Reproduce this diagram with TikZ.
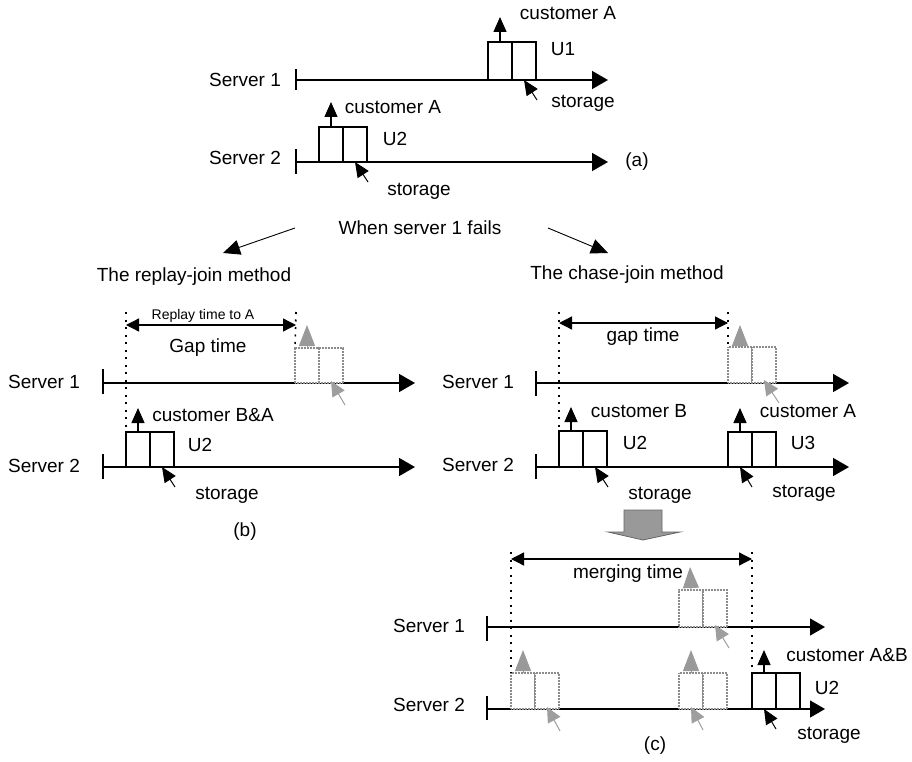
\documentclass[tikz,border=0pt]{standalone}
\usepackage{fontspec}
\setmainfont{Liberation Sans}
\usetikzlibrary{arrows.meta}
\tikzset{
  txt/.style={font=\fontsize{19}{22}\selectfont, inner sep=0pt},
  smalltxt/.style={font=\fontsize{14}{16}\selectfont, inner sep=0pt},
  cell/.style={draw, line width=1.1pt, minimum width=24pt, minimum height=36pt, inner sep=0pt, outer sep=0pt, anchor=south west, fill=white},
  gcell/.style={draw=black!45, line width=1.6pt, dash pattern=on 1pt off 0.5pt, minimum width=24pt, minimum height=36pt, inner sep=0pt, outer sep=0pt, anchor=south west, fill=white},
  axis/.style={line width=1.6pt, -{Triangle[length=16pt,width=18pt]}},
  axisthin/.style={line width=1.2pt, -{Triangle[length=15pt,width=17pt]}},
  tickmark/.style={line width=1.6pt},
  uparr/.style={line width=1.2pt, -{Triangle[length=15pt,width=13pt]}},
  starr/.style={line width=1pt, -{Triangle[length=15pt,width=13pt]}},
  garr/.style={black!40, line width=1pt, -{Triangle[length=21pt,width=16pt]}},
  gstarr/.style={black!38, line width=1pt, -{Triangle[length=15pt,width=14pt]}},
  dbl/.style={line width=1.3pt, {Triangle[length=13pt,width=13pt]}-{Triangle[length=13pt,width=13pt]}},
  dotline/.style={line width=1.6pt, dash pattern=on 2pt off 5.5pt},
  thinarr/.style={line width=0.9pt, -{Triangle[length=17pt,width=15pt]}}
}
\begin{document}
\begin{tikzpicture}[x=1pt,y=-1pt]
\useasboundingbox (0,0) rectangle (912,762);

% ================= (a) =================
\coordinate (a1s) at (296,80);  \coordinate (a1e) at (608,80);
\coordinate (a2s) at (296,162); \coordinate (a2e) at (608,162);
\draw[axis] (a1s) -- (a1e);
\draw[tickmark] ([yshift=-10]a1s) -- ([yshift=11]a1s);
\draw[axis] (a2s) -- (a2e);
\draw[tickmark] ([yshift=-12]a2s) -- ([yshift=13]a2s);
\node[txt] (ta1) at (245,79.5) {Server 1};
\node[txt] (ta2) at (245,158) {Server 2};
% U1
\node[cell, minimum height=38pt] (u1a) at (488,80) {};
\node[cell, minimum height=38pt] (u1b) at (512,80) {};
\coordinate (u1up) at (500,17);
\draw[uparr] (u1a.north) -- (u1up);
\coordinate (u1st) at (537,100);
\draw[starr] (u1st) -- (u1b.south);
\node[txt] (tca1) at (568,13) {customer A};
\node[txt] (tu1) at (563,49) {U1};
\node[txt] (tst1) at (583,103.5) {storage};
% U2
\node[cell, minimum height=35pt] (u2a) at (319,162) {};
\node[cell, minimum height=35pt] (u2b) at (343,162) {};
\coordinate (u2up) at (331,102);
\draw[uparr] (u2a.north) -- (u2up);
\coordinate (u2st) at (368,182);
\draw[starr] (u2st) -- (u2b.south);
\node[txt] (tca2) at (393,107) {customer A};
\node[txt] (tu2) at (395,139) {U2};
\node[txt] (tst2) at (419,191) {storage};
\node[txt] (tla) at (637,162) {(a)};

% ================= transition =================
\node[txt] (when) at (420,228) {When server 1 fails};
\coordinate (w1s) at (295,228); \coordinate (w1e) at (223,253);
\coordinate (w2s) at (548,228); \coordinate (w2e) at (608,253);
\draw[thinarr] (w1s) -- (w1e);
\draw[thinarr] (w2s) -- (w2e);
\node[txt] (replay) at (194,277) {The replay-join method};
\node[txt] (chase) at (627,275) {The chase-join method};

% ================= (b) =================
\coordinate (b1s) at (103,383); \coordinate (b1e) at (415,383);
\coordinate (b2s) at (103,467); \coordinate (b2e) at (415,467);
\draw[axis] (b1s) -- (b1e);
\draw[tickmark] ([yshift=-11]b1s) -- ([yshift=14]b1s);
\draw[axis] (b2s) -- (b2e);
\draw[tickmark] ([yshift=-12]b2s) -- ([yshift=13]b2s);
\node[txt] (tb1) at (44,382) {Server 1};
\node[txt] (tb2) at (44,465.5) {Server 2};
% gray replica
\node[gcell, minimum height=35pt] (bga) at (295,383) {};
\node[gcell, minimum height=35pt] (bgb) at (319,383) {};
\coordinate (bgup) at (307,325);
\draw[garr] (bga.north) -- (bgup);
\coordinate (bgst) at (345,405);
\draw[gstarr] (bgst) -- ([yshift=2]bgb.south);
% U2
\node[cell, minimum height=35pt] (bua) at (126,467) {};
\node[cell, minimum height=35pt] (bub) at (150,467) {};
\coordinate (buup) at (138,408);
\draw[uparr] (bua.north) -- (buup);
\coordinate (bust) at (175,487);
\draw[starr] (bust) -- (bub.south);
% dotted + double arrow
\coordinate (bdl) at (126,312); \coordinate (bdr) at (296,312);
\draw[dotline] (bdl) -- (bua.north west);
\draw[dotline] (bdr) -- (bga.north west);
\coordinate (bal) at (126,325); \coordinate (bar) at (296,325);
\draw[dbl] (bal) -- (bar);
\node[smalltxt] (treplay) at (203,316) {Replay time to A};
\node[txt] (tgap) at (208,348) {Gap time};
\node[txt] (tcba) at (213,415) {customer B\&A};
\node[txt] (tbu2) at (200,445) {U2};
\node[txt] (tbst) at (227,495) {storage};
\node[txt] (tlb) at (245,532) {(b)};

% ================= chase-join =================
\coordinate (c1s) at (536,383); \coordinate (c1e) at (849,383);
\coordinate (c2s) at (536,467); \coordinate (c2e) at (849,467);
\draw[axis] (c1s) -- (c1e);
\draw[tickmark] ([yshift=-13]c1s) -- ([yshift=12]c1s);
\draw[axis] (c2s) -- (c2e);
\draw[tickmark] ([yshift=-12]c2s) -- ([yshift=13]c2s);
\node[txt] (tc1) at (478,382) {Server 1};
\node[txt] (tc2) at (478,465) {Server 2};
% gray replica
\node[gcell, minimum height=36pt] (cga) at (728,383) {};
\node[gcell, minimum height=36pt] (cgb) at (752,383) {};
\coordinate (cgup) at (740,325);
\draw[garr] (cga.north) -- (cgup);
\coordinate (cgst) at (779,403);
\draw[gstarr] (cgst) -- ([yshift=3]cgb.south);
% U2
\node[cell, minimum height=36pt] (cua) at (559,467) {};
\node[cell, minimum height=36pt] (cub) at (583,467) {};
\coordinate (cuup) at (571,407);
\draw[uparr] (cua.north) -- (cuup);
\coordinate (cust) at (608,487);
\draw[starr] (cust) -- (cub.south);
% U3
\node[cell, minimum height=35pt] (cva) at (728,467) {};
\node[cell, minimum height=35pt] (cvb) at (752,467) {};
\coordinate (cvup) at (740,408);
\draw[uparr] (cva.north) -- (cvup);
\coordinate (cvst) at (752,487);
\draw[starr] (cvst) -- (cva.south);
% dotted + double arrow
\coordinate (cdl) at (559,312); \coordinate (cdr) at (728,312);
\draw[dotline] (cdl) -- (cua.north west);
\draw[dotline] (cdr) -- (cga.north west);
\coordinate (cal) at (559,323); \coordinate (car) at (728,323);
\draw[dbl] (cal) -- (car);
\node[txt] (tcgap) at (643,337) {gap time};
\node[txt] (tcb) at (639,411) {customer B};
\node[txt] (tcu2) at (635,443) {U2};
\node[txt] (tcst1) at (660,495) {storage};
\node[txt] (tca) at (808,411) {customer A};
\node[txt] (tcu3) at (803,443) {U3};
\node[txt] (tcst2) at (804,493) {storage};

% big block arrow
\draw[black!60, fill=black!40, line width=0.8pt]
  (624,510) -- (662,510) -- (662,532) -- (680,532) -- (643,540) -- (608,532) -- (624,532) -- cycle;

% ================= (c) =================
\coordinate (d1s) at (487,627); \coordinate (d1e) at (825,627);
\coordinate (d2s) at (487,709); \coordinate (d2e) at (825,709);
\draw[axisthin] (d1s) -- (d1e);
\draw[tickmark] ([yshift=-14]d1s) -- ([yshift=11]d1s);
\draw[axisthin] (d2s) -- (d2e);
\draw[tickmark] ([yshift=-11]d2s) -- ([yshift=13]d2s);
\node[txt] (td1) at (429,626) {Server 1};
\node[txt] (td2) at (429,705) {Server 2};
% gray on server 1
\node[gcell, minimum height=37pt] (dga) at (679,627) {};
\node[gcell, minimum height=37pt] (dgb) at (703,627) {};
\coordinate (dgup) at (690,567);
\draw[garr] (dga.north) -- (dgup);
\coordinate (dgst) at (729,648);
\draw[gstarr] (dgst) -- ([yshift=2]dgb.south);
% gray on server 2, first
\node[gcell] (dha) at (511,709) {};
\node[gcell] (dhb) at (535,709) {};
\coordinate (dhup) at (523,650);
\draw[garr] (dha.north) -- (dhup);
\coordinate (dhst) at (560,731);
\draw[gstarr] (dhst) -- ([yshift=2]dhb.south);
% gray on server 2, second
\node[gcell] (dia) at (679,709) {};
\node[gcell] (dib) at (703,709) {};
\coordinate (diup) at (691,650);
\draw[garr] (dia.north) -- (diup);
\coordinate (dist) at (703,730);
\draw[gstarr] (dist) -- ([yshift=2]dia.south);
% U2 black
\node[cell] (dua) at (752,709) {};
\node[cell] (dub) at (776,709) {};
\coordinate (duup) at (764,650);
\draw[uparr] (dua.north) -- (duup);
\coordinate (dust) at (776,729);
\draw[starr] (dust) -- (dua.south);
% dotted + double arrow
\coordinate (ddl) at (511,552); \coordinate (ddr) at (752,552);
\draw[dotline] (ddl) -- (dha.north west);
\draw[dotline] (ddr) -- (dua.north west);
\coordinate (dal) at (511,559); \coordinate (dar) at (752,559);
\draw[dbl] (dal) -- (dar);
\node[txt] (tmerge) at (628,574) {merging time};
\node[txt] (tcab) at (847,655) {customer A\&B};
\node[txt] (tdu2) at (827,688) {U2};
\node[txt] (tdst) at (829,735) {storage};
\node[txt] (tlc) at (655,746) {(c)};
\end{tikzpicture}
\end{document}
